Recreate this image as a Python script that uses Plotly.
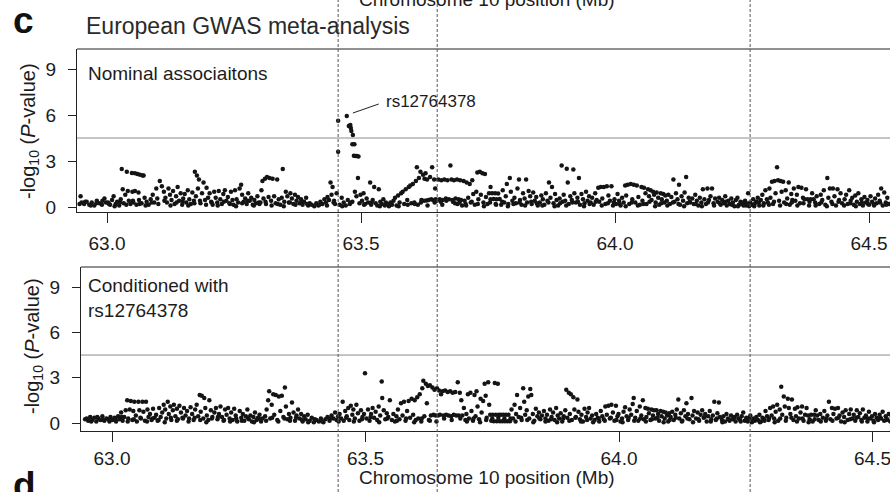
import plotly.graph_objects as go

FONT = "Liberation Sans, Arial, Helvetica, sans-serif"
W, H = 904, 492   # the page is viewed through an 890 px window; panels run off its right edge

# ---------------- data (Mb position, -log10 P) ----------------
tick_vals = [63.0, 63.5, 64.0, 64.5]
tick_text = ["63.0", "63.5", "64.0", "64.5"]
y_ticks = [0, 3, 6, 9]
threshold = 4.5
region_bounds = [63.455, 63.650, 64.266]
lead_snp = "rs12764378"

nominal_peak = [
    (63.455, 5.63), (63.455, 3.6), (63.472, 5.94), (63.476, 5.28), (63.479, 5.35),
    (63.480, 5.15), (63.481, 4.95), (63.484, 4.7), (63.483, 4.1), (63.487, 4.1),
    (63.486, 3.35), (63.489, 3.33), (63.492, 3.33), (63.495, 3.3), (63.494, 1.9),
]

nominal_background = [
    (62.948, 0.7), (62.950, 0.3), (62.955, 0.2), (62.960, 0.35), (62.965, 0.15), (62.970, 0.3),
    (62.975, 0.1), (62.980, 0.4), (62.985, 0.25), (62.990, 0.15), (62.995, 0.55), (62.998, 0.3),
    (63.002, 0.3), (63.006, 0.15), (63.010, 0.45), (63.013, 0.7), (63.017, 0.2), (63.020, 0.35),
    (63.024, 0.1), (63.027, 0.5), (63.029, 2.48), (63.031, 1.15), (63.033, 0.25), (63.036, 0.8),
    (63.039, 2.3), (63.041, 1.05), (63.043, 0.4), (63.046, 0.2), (63.049, 2.22), (63.050, 1.0),
    (63.055, 2.2), (63.060, 2.15), (63.065, 2.1), (63.070, 2.05), (63.072, 2.05), (63.055, 1.05),
    (63.062, 0.95), (63.052, 0.3), (63.058, 0.15), (63.063, 0.45), (63.068, 0.25), (63.074, 0.6),
    (63.078, 0.35), (63.082, 0.15), (63.086, 0.5), (63.090, 0.8), (63.093, 0.3), (63.097, 1.2),
    (63.099, 0.55),
    (63.104, 1.7), (63.108, 1.35), (63.112, 1.0), (63.115, 0.6), (63.118, 0.3), (63.121, 1.2),
    (63.124, 0.8), (63.127, 0.45), (63.130, 1.05), (63.133, 0.2), (63.136, 0.7), (63.139, 1.3),
    (63.142, 0.4), (63.145, 0.9), (63.148, 0.15), (63.150, 0.55),
    (63.153, 0.85), (63.156, 0.3), (63.159, 1.1), (63.162, 0.5), (63.165, 0.2), (63.168, 0.95),
    (63.171, 0.4), (63.173, 2.3), (63.175, 0.7), (63.177, 2.05), (63.179, 1.2), (63.181, 1.8),
    (63.184, 0.25), (63.187, 0.9), (63.190, 1.6), (63.193, 0.45), (63.196, 1.25), (63.199, 0.6),
    (63.202, 0.9), (63.205, 0.35), (63.208, 0.15), (63.211, 1.0), (63.214, 0.6), (63.217, 0.3),
    (63.220, 1.05), (63.223, 0.5), (63.226, 0.2), (63.229, 0.85), (63.232, 1.1), (63.235, 0.4),
    (63.238, 0.65), (63.241, 0.25), (63.244, 1.0), (63.247, 0.45), (63.249, 0.15),
    (63.252, 1.1), (63.255, 0.5), (63.258, 0.3), (63.261, 1.2), (63.264, 1.45), (63.266, 0.8),
    (63.269, 0.35), (63.272, 0.55), (63.275, 0.2), (63.278, 0.9), (63.281, 0.4), (63.284, 0.6),
    (63.287, 0.15), (63.290, 0.45), (63.293, 0.25), (63.296, 0.7), (63.299, 0.3),
    (63.302, 0.3), (63.304, 1.1), (63.306, 1.7), (63.308, 0.55), (63.311, 1.85), (63.313, 0.2),
    (63.315, 1.95), (63.318, 0.65), (63.320, 1.9), (63.323, 0.4), (63.326, 1.85), (63.329, 0.7),
    (63.332, 0.25), (63.335, 1.8), (63.338, 0.5), (63.341, 0.15), (63.344, 0.6), (63.346, 2.48),
    (63.349, 0.35),
    (63.352, 1.0), (63.355, 0.7), (63.358, 0.3), (63.361, 0.9), (63.364, 0.55), (63.367, 0.2),
    (63.370, 0.8), (63.373, 0.4), (63.376, 0.65), (63.379, 0.25), (63.382, 0.5), (63.385, 0.15),
    (63.388, 0.35), (63.392, 0.6), (63.396, 0.1), (63.399, 0.25),
    (63.403, 0.15), (63.408, 0.05), (63.412, 0.25), (63.416, 0.1), (63.420, 0.35), (63.424, 0.2),
    (63.428, 0.5), (63.431, 0.3), (63.434, 0.65), (63.437, 0.45), (63.440, 1.6), (63.442, 0.8),
    (63.444, 1.3), (63.447, 0.4), (63.449, 0.2),
    (63.452, 0.9), (63.458, 0.15), (63.462, 0.6), (63.466, 0.3), (63.470, 0.1), (63.474, 0.45),
    (63.478, 0.2), (63.483, 0.35), (63.488, 1.0), (63.491, 0.7), (63.497, 0.25), (63.499, 0.8),
    (63.502, 0.4), (63.505, 0.9), (63.508, 0.2), (63.511, 0.55), (63.514, 0.3), (63.518, 1.6),
    (63.520, 0.15), (63.523, 0.45), (63.526, 1.3), (63.529, 0.25), (63.532, 0.1), (63.535, 1.15),
    (63.538, 0.35), (63.541, 0.2), (63.544, 0.5), (63.547, 0.1), (63.549, 0.3),
    (63.552, 0.2), (63.555, 0.05), (63.558, 0.3), (63.561, 0.15), (63.564, 0.4), (63.567, 0.6),
    (63.570, 0.1), (63.573, 0.75), (63.576, 0.3), (63.579, 0.9), (63.582, 1.0), (63.585, 0.2),
    (63.588, 1.15), (63.591, 0.45), (63.594, 1.3), (63.597, 1.4), (63.599, 0.25),
    (63.602, 1.5), (63.605, 0.3), (63.608, 1.7), (63.610, 2.6), (63.612, 0.15), (63.614, 1.9),
    (63.617, 2.3), (63.619, 0.45), (63.622, 2.1), (63.624, 0.4), (63.625, 1.85), (63.627, 2.2),
    (63.629, 0.42), (63.630, 1.8), (63.633, 0.45), (63.636, 1.95), (63.638, 0.5), (63.640, 2.6),
    (63.642, 0.45), (63.644, 1.8), (63.646, 1.2), (63.647, 0.5), (63.649, 0.4),
    (63.652, 1.8), (63.655, 0.5), (63.658, 1.75), (63.661, 0.45), (63.664, 1.8), (63.667, 0.55),
    (63.670, 1.75), (63.673, 0.5), (63.676, 2.7), (63.678, 1.8), (63.680, 0.45), (63.683, 1.75),
    (63.686, 0.55), (63.689, 1.8), (63.690, 0.2), (63.692, 0.5), (63.695, 1.75), (63.697, 0.45),
    (63.699, 0.1), (63.660, 0.15), (63.685, 0.25),
    (63.702, 1.7), (63.704, 0.4), (63.706, 0.2), (63.708, 1.6), (63.711, 0.6), (63.714, 1.5),
    (63.716, 0.3), (63.719, 1.75), (63.721, 0.85), (63.724, 0.15), (63.727, 1.0), (63.729, 2.25),
    (63.731, 0.5), (63.734, 2.3), (63.736, 0.8), (63.739, 2.2), (63.741, 0.3), (63.744, 2.15),
    (63.746, 0.65), (63.749, 0.2),
    (63.752, 0.9), (63.755, 0.5), (63.758, 0.9), (63.761, 0.52), (63.764, 0.9), (63.767, 0.5),
    (63.770, 0.88), (63.773, 0.52), (63.776, 0.15), (63.779, 1.1), (63.782, 0.3), (63.785, 0.7),
    (63.787, 1.5), (63.790, 0.2), (63.793, 1.9), (63.795, 1.0), (63.798, 0.4), (63.755, 1.3),
    (63.765, 0.2),
    (63.802, 0.6), (63.805, 0.25), (63.808, 1.2), (63.811, 1.8), (63.813, 0.45), (63.816, 0.15),
    (63.819, 0.9), (63.822, 0.55), (63.825, 1.8), (63.827, 0.3), (63.830, 1.05), (63.833, 0.7),
    (63.836, 0.2), (63.839, 0.95), (63.842, 0.4), (63.845, 0.65), (63.848, 0.1),
    (63.852, 0.3), (63.855, 0.75), (63.858, 0.5), (63.861, 0.15), (63.864, 0.9), (63.867, 0.4),
    (63.870, 1.6), (63.873, 0.6), (63.876, 1.3), (63.879, 0.25), (63.882, 0.85), (63.885, 0.45),
    (63.888, 0.1), (63.891, 0.55), (63.895, 2.7), (63.897, 0.35), (63.899, 0.8),
    (63.902, 0.4), (63.905, 2.5), (63.907, 1.6), (63.909, 0.2), (63.912, 0.7), (63.915, 0.45),
    (63.918, 2.45), (63.920, 0.9), (63.923, 0.3), (63.926, 0.6), (63.929, 1.9), (63.931, 0.15),
    (63.934, 0.85), (63.937, 0.5), (63.940, 0.25), (63.943, 1.0), (63.946, 0.4), (63.949, 0.7),
    (63.952, 0.3), (63.955, 0.6), (63.958, 0.15), (63.961, 0.9), (63.964, 0.45), (63.967, 1.25),
    (63.969, 0.35), (63.972, 1.3), (63.975, 0.55), (63.978, 1.3), (63.981, 0.2), (63.984, 1.35),
    (63.987, 0.75), (63.990, 0.4), (63.993, 1.35), (63.996, 0.1), (63.999, 0.5),
    (64.002, 0.2), (64.005, 0.85), (64.008, 0.4), (64.011, 0.1), (64.014, 0.6), (64.017, 0.3),
    (64.020, 1.4), (64.022, 0.75), (64.025, 1.45), (64.028, 0.2), (64.031, 1.5), (64.034, 0.5),
    (64.037, 1.45), (64.040, 0.3), (64.043, 1.4), (64.046, 0.65), (64.049, 0.15),
    (64.052, 1.3), (64.054, 0.4), (64.057, 1.25), (64.060, 0.9), (64.062, 0.2), (64.065, 1.15),
    (64.067, 0.7), (64.070, 1.1), (64.072, 0.45), (64.075, 1.0), (64.077, 0.8), (64.080, 0.3),
    (64.082, 0.95), (64.085, 0.6), (64.087, 0.15), (64.090, 0.9), (64.092, 0.5), (64.095, 0.85),
    (64.097, 0.3), (64.099, 0.75),
    (64.102, 0.4), (64.105, 0.8), (64.108, 0.2), (64.111, 0.65), (64.115, 1.8), (64.117, 0.35),
    (64.120, 0.9), (64.123, 0.5), (64.126, 1.45), (64.128, 0.15), (64.131, 0.7), (64.134, 0.4),
    (64.137, 0.95), (64.140, 1.95), (64.142, 0.25), (64.145, 0.6), (64.148, 0.3),
    (64.152, 0.55), (64.155, 0.2), (64.158, 0.8), (64.161, 0.4), (64.164, 0.1), (64.167, 0.6),
    (64.170, 0.3), (64.173, 1.15), (64.176, 0.5), (64.179, 0.2), (64.182, 1.2), (64.185, 0.45),
    (64.188, 0.7), (64.191, 1.2), (64.194, 0.25), (64.197, 0.55),
    (64.202, 0.35), (64.205, 0.6), (64.208, 0.15), (64.211, 0.45), (64.214, 0.25), (64.217, 0.7),
    (64.220, 0.1), (64.223, 0.4), (64.226, 0.2), (64.229, 0.55), (64.232, 0.3), (64.235, 0.05),
    (64.238, 0.45), (64.241, 0.6), (64.244, 0.15), (64.247, 0.35),
    (64.250, 0.2), (64.253, 0.1), (64.256, 0.4), (64.259, 0.25), (64.262, 0.9), (64.264, 0.05),
    (64.266, 0.3), (64.269, 0.15), (64.272, 0.5), (64.275, 0.2), (64.278, 0.35), (64.281, 0.6),
    (64.284, 0.1), (64.287, 0.45), (64.290, 0.8), (64.293, 0.25), (64.296, 1.1), (64.299, 0.5),
    (64.301, 0.3), (64.304, 1.2), (64.306, 0.6), (64.309, 1.65), (64.311, 0.2), (64.314, 1.7),
    (64.316, 0.9), (64.319, 2.6), (64.321, 1.75), (64.323, 0.4), (64.326, 1.7), (64.328, 1.0),
    (64.331, 1.65), (64.333, 0.3), (64.336, 1.1), (64.339, 0.55), (64.342, 1.6), (64.344, 0.15),
    (64.347, 0.85), (64.349, 0.45),
    (64.352, 1.2), (64.355, 0.4), (64.358, 0.8), (64.361, 1.3), (64.364, 0.25), (64.367, 1.25),
    (64.370, 0.6), (64.373, 0.5), (64.376, 1.15), (64.379, 0.5), (64.382, 0.1), (64.385, 0.5),
    (64.388, 0.9), (64.391, 0.5), (64.394, 0.3), (64.397, 0.7),
    (64.402, 0.2), (64.405, 0.8), (64.408, 0.45), (64.411, 1.1), (64.414, 0.15), (64.418, 1.9),
    (64.420, 0.6), (64.423, 1.2), (64.426, 0.35), (64.429, 1.2), (64.432, 0.7), (64.435, 0.1),
    (64.438, 1.15), (64.441, 0.45), (64.444, 0.9), (64.447, 0.25),
    (64.452, 0.5), (64.455, 0.8), (64.458, 0.2), (64.461, 1.1), (64.464, 0.4), (64.467, 0.6),
    (64.470, 0.15), (64.473, 0.75), (64.476, 0.35), (64.479, 0.9), (64.482, 0.2), (64.485, 0.5),
    (64.488, 0.1), (64.491, 0.65), (64.494, 0.3), (64.497, 0.45), (64.500, 0.15), (64.503, 0.7),
    (64.506, 0.35), (64.509, 0.2), (64.512, 0.55), (64.515, 0.25), (64.518, 0.8), (64.521, 0.4),
    (64.524, 1.2), (64.527, 0.1), (64.530, 0.95), (64.533, 0.3), (64.536, 0.6), (64.539, 0.2),
]

nominal_baseline = [
    (62.946, 0.2), (62.957, 0.35), (62.968, 0.1), (62.979, 0.25), (62.991, 0.4), (63.004, 0.2),
    (63.015, 0.05), (63.026, 0.3), (63.038, 0.15), (63.051, 0.4), (63.064, 0.2), (63.076, 0.1),
    (63.088, 0.3), (63.101, 0.2), (63.113, 0.4), (63.125, 0.1), (63.137, 0.3), (63.149, 0.35),
    (63.160, 0.1), (63.172, 0.25), (63.183, 0.4), (63.195, 0.15), (63.206, 0.3), (63.218, 0.1),
    (63.230, 0.35), (63.242, 0.2), (63.254, 0.05), (63.266, 0.25), (63.277, 0.4), (63.289, 0.1),
    (63.300, 0.2), (63.312, 0.35), (63.324, 0.1), (63.336, 0.2), (63.348, 0.05), (63.360, 0.3),
    (63.371, 0.15), (63.383, 0.35), (63.394, 0.2), (63.418, 0.15), (63.433, 0.1), (63.446, 0.3),
    (63.463, 0.05), (63.480, 0.3), (63.506, 0.15), (63.521, 0.3), (63.537, 0.05), (63.559, 0.2),
    (63.574, 0.05), (63.592, 0.15), (63.606, 0.2), (63.618, 0.3), (63.631, 0.1), (63.645, 0.3),
    (63.657, 0.35), (63.668, 0.4), (63.681, 0.35), (63.694, 0.3), (63.707, 0.1), (63.718, 0.35),
    (63.730, 0.2), (63.742, 0.05), (63.754, 0.3), (63.766, 0.15), (63.778, 0.35), (63.789, 0.05),
    (63.800, 0.2), (63.812, 0.3), (63.823, 0.1), (63.835, 0.35), (63.846, 0.25), (63.857, 0.1),
    (63.869, 0.3), (63.881, 0.05), (63.892, 0.25), (63.904, 0.1), (63.916, 0.3), (63.927, 0.35),
    (63.939, 0.05), (63.950, 0.2), (63.962, 0.35), (63.974, 0.1), (63.986, 0.25), (63.998, 0.3),
    (64.009, 0.2), (64.021, 0.05), (64.033, 0.3), (64.045, 0.1), (64.056, 0.2), (64.068, 0.35),
    (64.079, 0.05), (64.091, 0.25), (64.103, 0.1), (64.114, 0.3), (64.125, 0.2), (64.136, 0.05),
    (64.147, 0.35), (64.159, 0.2), (64.171, 0.05), (64.183, 0.3), (64.195, 0.1), (64.206, 0.25),
    (64.218, 0.35), (64.230, 0.15), (64.242, 0.05), (64.252, 0.3), (64.258, 0.1), (64.267, 0.2),
    (64.274, 0.05), (64.283, 0.3), (64.292, 0.1), (64.303, 0.15), (64.313, 0.35), (64.325, 0.1),
    (64.337, 0.2), (64.348, 0.3), (64.359, 0.1), (64.371, 0.25), (64.383, 0.35), (64.395, 0.1),
    (64.406, 0.3), (64.417, 0.05), (64.428, 0.2), (64.440, 0.35), (64.451, 0.1), (64.463, 0.25),
    (64.474, 0.05), (64.486, 0.3), (64.498, 0.2), (64.510, 0.1), (64.522, 0.3), (64.534, 0.15),
    (64.545, 0.3), (64.552, 0.8), (64.556, 0.2),
]

conditioned = [
    (62.950, 0.3), (62.953, 0.15), (62.957, 0.4), (62.961, 0.2), (62.965, 0.35), (62.969, 0.1),
    (62.973, 0.3), (62.977, 0.2), (62.981, 0.45), (62.985, 0.15), (62.989, 0.3), (62.993, 0.25),
    (62.997, 0.4),
    (63.001, 0.2), (63.005, 0.35), (63.008, 0.1), (63.012, 0.45), (63.015, 0.25), (63.018, 0.7),
    (63.021, 0.15), (63.024, 0.4), (63.027, 0.85), (63.030, 1.5), (63.032, 0.3), (63.035, 0.9),
    (63.037, 1.45), (63.040, 0.2), (63.042, 0.8), (63.044, 1.4), (63.047, 0.5), (63.049, 0.1),
    (63.052, 1.4), (63.054, 0.85), (63.057, 0.3), (63.060, 1.4), (63.062, 0.75), (63.065, 0.15),
    (63.067, 1.4), (63.070, 0.9), (63.072, 0.4), (63.075, 0.6), (63.078, 0.2), (63.081, 0.95),
    (63.084, 0.35), (63.087, 0.55), (63.090, 0.15), (63.093, 1.0), (63.096, 0.4), (63.099, 0.7),
    (63.102, 1.2), (63.105, 0.9), (63.107, 0.3), (63.110, 1.4), (63.112, 0.6), (63.115, 1.1),
    (63.117, 0.2), (63.120, 0.85), (63.122, 1.2), (63.125, 0.45), (63.128, 0.95), (63.130, 0.25),
    (63.133, 1.15), (63.136, 0.7), (63.139, 0.35), (63.142, 1.0), (63.145, 0.5), (63.148, 0.8),
    (63.152, 0.3), (63.155, 1.05), (63.158, 0.6), (63.161, 0.2), (63.164, 0.9), (63.167, 1.2),
    (63.170, 0.45), (63.173, 1.85), (63.175, 0.75), (63.177, 1.8), (63.180, 0.3), (63.182, 1.65),
    (63.184, 1.0), (63.187, 0.5), (63.190, 0.2), (63.192, 1.5), (63.195, 0.85), (63.198, 0.4),
    (63.202, 0.7), (63.205, 1.0), (63.208, 0.25), (63.211, 0.6), (63.214, 1.1), (63.217, 0.4),
    (63.220, 0.15), (63.223, 0.9), (63.226, 0.55), (63.229, 1.0), (63.232, 0.3), (63.235, 0.7),
    (63.238, 0.2), (63.241, 0.95), (63.244, 0.5), (63.247, 0.1),
    (63.252, 0.8), (63.255, 0.35), (63.258, 0.6), (63.261, 0.15), (63.264, 0.45), (63.267, 0.9),
    (63.270, 0.25), (63.273, 0.5), (63.276, 0.1), (63.279, 0.4), (63.282, 0.7), (63.285, 0.2),
    (63.288, 0.35), (63.291, 0.55), (63.294, 0.1), (63.297, 0.3),
    (63.302, 0.45), (63.305, 0.9), (63.308, 1.5), (63.310, 2.1), (63.312, 0.3), (63.315, 1.2),
    (63.318, 1.9), (63.320, 0.55), (63.323, 1.85), (63.326, 0.2), (63.329, 1.75), (63.332, 0.8),
    (63.335, 1.8), (63.338, 0.4), (63.341, 2.35), (63.343, 1.1), (63.346, 0.25), (63.349, 0.6),
    (63.352, 0.35), (63.355, 1.35), (63.358, 0.7), (63.361, 0.15), (63.364, 0.5), (63.367, 0.9),
    (63.370, 0.3), (63.373, 0.6), (63.376, 0.1), (63.379, 0.45), (63.382, 0.25), (63.386, 0.55),
    (63.390, 0.15), (63.394, 0.35), (63.398, 0.05),
    (63.403, 0.2), (63.408, 0.1), (63.412, 0.3), (63.417, 0.05), (63.421, 0.25), (63.425, 0.4),
    (63.429, 0.15), (63.433, 0.5), (63.437, 0.3), (63.440, 0.7), (63.443, 0.2), (63.446, 0.45),
    (63.449, 0.6),
    (63.452, 0.3), (63.455, 1.4), (63.457, 0.15), (63.460, 0.8), (63.463, 0.45), (63.466, 1.0),
    (63.468, 0.2), (63.471, 1.15), (63.474, 0.55), (63.476, 0.9), (63.479, 0.3), (63.482, 1.2),
    (63.485, 0.65), (63.488, 0.15), (63.491, 0.85), (63.494, 0.4), (63.497, 0.6), (63.499, 3.3),
    (63.502, 0.3), (63.505, 0.9), (63.508, 0.15), (63.511, 0.6), (63.514, 1.0), (63.517, 0.35),
    (63.520, 0.75), (63.523, 0.2), (63.526, 1.1), (63.529, 0.5), (63.532, 2.75), (63.533, 1.65),
    (63.536, 0.85), (63.539, 0.25), (63.542, 0.65), (63.545, 0.4), (63.548, 1.5),
    (63.552, 0.2), (63.555, 0.6), (63.558, 0.1), (63.561, 0.45), (63.564, 0.9), (63.567, 0.25),
    (63.570, 1.3), (63.573, 0.5), (63.576, 1.4), (63.579, 0.15), (63.582, 0.8), (63.585, 1.45),
    (63.588, 0.35), (63.591, 1.6), (63.594, 0.55), (63.597, 1.5), (63.599, 0.2),
    (63.602, 1.7), (63.604, 0.3), (63.607, 1.9), (63.610, 0.1), (63.612, 2.3), (63.614, 2.8),
    (63.616, 0.45), (63.619, 2.6), (63.621, 1.3), (63.623, 2.45), (63.625, 0.2), (63.627, 2.5),
    (63.629, 0.5), (63.632, 2.35), (63.634, 0.55), (63.636, 2.2), (63.638, 0.5), (63.641, 2.3),
    (63.643, 0.5), (63.645, 2.15), (63.647, 0.55), (63.649, 1.9),
    (63.652, 2.1), (63.654, 0.5), (63.657, 2.15), (63.659, 0.55), (63.662, 2.05), (63.664, 0.5),
    (63.667, 2.1), (63.669, 0.45), (63.672, 2.0), (63.674, 0.55), (63.677, 2.05), (63.679, 0.5),
    (63.682, 2.7), (63.684, 0.5), (63.686, 2.0), (63.689, 1.5), (63.691, 0.5), (63.694, 1.0),
    (63.697, 0.2), (63.699, 0.6),
    (63.702, 1.9), (63.704, 0.3), (63.707, 2.0), (63.709, 0.8), (63.712, 0.15), (63.715, 1.85),
    (63.717, 0.45), (63.719, 2.1), (63.721, 1.1), (63.724, 0.25), (63.727, 1.6), (63.729, 0.7),
    (63.732, 1.45), (63.735, 2.6), (63.737, 1.8), (63.739, 0.35), (63.742, 2.7), (63.744, 1.2),
    (63.746, 0.55), (63.748, 0.15),
    (63.751, 0.55), (63.753, 0.12), (63.755, 2.65), (63.757, 0.55), (63.759, 0.12), (63.761, 2.6),
    (63.763, 0.55), (63.765, 0.12), (63.767, 0.55), (63.770, 0.12), (63.772, 0.55), (63.775, 0.12),
    (63.777, 0.55), (63.780, 0.12), (63.782, 0.55), (63.785, 0.12), (63.788, 0.9), (63.791, 0.3),
    (63.794, 1.2), (63.797, 0.6), (63.799, 1.85),
    (63.802, 0.4), (63.805, 1.0), (63.808, 0.2), (63.811, 2.3), (63.813, 1.4), (63.815, 0.55),
    (63.818, 0.85), (63.821, 1.75), (63.823, 0.3), (63.825, 2.25), (63.827, 1.85), (63.830, 0.6),
    (63.833, 0.15), (63.836, 0.95), (63.839, 0.45), (63.842, 0.7), (63.845, 0.25), (63.848, 0.5),
    (63.852, 0.8), (63.855, 0.3), (63.858, 0.55), (63.861, 0.15), (63.864, 0.9), (63.867, 0.4),
    (63.870, 0.7), (63.873, 0.2), (63.876, 1.0), (63.879, 0.5), (63.882, 0.3), (63.885, 0.65),
    (63.888, 0.1), (63.891, 0.45), (63.894, 0.85), (63.896, 2.2), (63.898, 0.35),
    (63.901, 2.0), (63.903, 0.6), (63.905, 1.9), (63.907, 0.2), (63.910, 1.7), (63.912, 0.9),
    (63.915, 0.4), (63.918, 1.55), (63.920, 0.75), (63.923, 0.25), (63.926, 0.55), (63.929, 0.1),
    (63.932, 0.95), (63.935, 0.4), (63.938, 0.7), (63.941, 1.0), (63.944, 0.3), (63.947, 0.5),
    (63.952, 0.2), (63.955, 0.6), (63.958, 0.35), (63.961, 0.1), (63.964, 0.8), (63.967, 0.45),
    (63.970, 0.25), (63.973, 1.1), (63.976, 0.55), (63.979, 1.15), (63.982, 0.3), (63.985, 1.2),
    (63.988, 0.7), (63.991, 0.15), (63.994, 1.15), (63.997, 0.45), (63.999, 0.6),
    (64.003, 0.1), (64.006, 0.3), (64.009, 0.75), (64.012, 1.05), (64.015, 0.45), (64.018, 0.2),
    (64.021, 0.9), (64.024, 0.55), (64.027, 1.25), (64.029, 1.65), (64.032, 0.35), (64.035, 0.8),
    (64.038, 0.15), (64.041, 1.1), (64.044, 0.5), (64.047, 1.5), (64.049, 0.25),
    (64.052, 1.0), (64.054, 0.4), (64.057, 0.95), (64.059, 0.65), (64.062, 0.2), (64.064, 0.9),
    (64.067, 0.5), (64.069, 0.85), (64.072, 0.3), (64.074, 0.85), (64.077, 0.6), (64.079, 0.15),
    (64.082, 0.8), (64.084, 0.45), (64.087, 0.75), (64.090, 0.3), (64.092, 0.7), (64.095, 0.5),
    (64.097, 0.1), (64.099, 0.65),
    (64.102, 0.4), (64.105, 0.75), (64.108, 0.2), (64.111, 0.55), (64.114, 0.9), (64.117, 1.55),
    (64.119, 0.3), (64.122, 0.65), (64.125, 0.15), (64.128, 0.85), (64.131, 0.45), (64.133, 1.3),
    (64.136, 0.6), (64.139, 0.25), (64.143, 1.65), (64.145, 0.5), (64.148, 0.8),
    (64.152, 0.3), (64.155, 0.7), (64.158, 0.15), (64.161, 0.55), (64.164, 0.85), (64.167, 0.35),
    (64.170, 0.6), (64.173, 0.1), (64.176, 0.45), (64.179, 0.8), (64.182, 0.25), (64.185, 0.5),
    (64.188, 1.4), (64.191, 0.2), (64.194, 0.65), (64.197, 1.35), (64.199, 0.4),
    (64.203, 0.2), (64.206, 0.45), (64.209, 0.1), (64.212, 0.6), (64.215, 0.3), (64.218, 0.15),
    (64.221, 0.5), (64.224, 0.25), (64.227, 0.4), (64.230, 0.1), (64.233, 0.55), (64.236, 0.3),
    (64.239, 0.2), (64.242, 0.45), (64.245, 0.7), (64.248, 0.15),
    (64.251, 0.35), (64.254, 0.1), (64.257, 0.25), (64.259, 0.5), (64.262, 0.05), (64.265, 0.3),
    (64.268, 0.15), (64.271, 0.4), (64.274, 0.2), (64.277, 0.55), (64.280, 0.1), (64.283, 0.35),
    (64.286, 0.25), (64.289, 0.8), (64.292, 0.45), (64.295, 0.2), (64.298, 1.0),
    (64.301, 0.5), (64.304, 1.1), (64.306, 0.3), (64.309, 0.75), (64.312, 1.2), (64.314, 0.15),
    (64.317, 0.9), (64.320, 2.4), (64.322, 0.55), (64.325, 1.75), (64.327, 1.1), (64.330, 0.35),
    (64.333, 1.6), (64.335, 1.0), (64.338, 0.6), (64.341, 1.55), (64.344, 0.2), (64.347, 0.95),
    (64.349, 0.45),
    (64.352, 1.05), (64.355, 0.3), (64.358, 0.7), (64.361, 1.1), (64.364, 0.15), (64.367, 0.55),
    (64.370, 1.0), (64.373, 0.5), (64.376, 0.25), (64.379, 0.55), (64.382, 0.1), (64.385, 0.55),
    (64.388, 0.85), (64.391, 0.5), (64.394, 0.2), (64.397, 0.6),
    (64.402, 0.35), (64.405, 0.8), (64.408, 0.15), (64.411, 0.5), (64.414, 1.4), (64.417, 0.25),
    (64.420, 1.0), (64.423, 0.6), (64.426, 0.95), (64.429, 0.3), (64.432, 1.0), (64.435, 0.5),
    (64.438, 0.1), (64.441, 0.7), (64.444, 0.4), (64.447, 0.85),
    (64.451, 0.2), (64.454, 0.6), (64.457, 0.9), (64.460, 0.3), (64.463, 0.55), (64.466, 0.15),
    (64.469, 0.85), (64.472, 0.4), (64.475, 0.65), (64.478, 0.2), (64.481, 0.9), (64.484, 0.35),
    (64.487, 0.5), (64.490, 0.1), (64.493, 0.75), (64.496, 0.3), (64.499, 0.45), (64.502, 0.15),
    (64.505, 0.6), (64.508, 0.35), (64.511, 0.2), (64.514, 0.55), (64.517, 0.3), (64.520, 0.75),
    (64.523, 0.15), (64.526, 0.45), (64.529, 0.25), (64.532, 0.6), (64.535, 0.1), (64.538, 0.4),
]

conditioned_baseline = [
    (62.947, 0.25), (62.959, 0.1), (62.971, 0.4), (62.983, 0.2), (62.995, 0.1), (63.007, 0.3),
    (63.019, 0.4), (63.031, 0.1), (63.043, 0.25), (63.056, 0.35), (63.069, 0.1), (63.080, 0.3),
    (63.092, 0.2), (63.104, 0.05), (63.116, 0.35), (63.128, 0.15), (63.140, 0.3), (63.151, 0.1),
    (63.163, 0.35), (63.174, 0.2), (63.186, 0.05), (63.197, 0.3), (63.209, 0.4), (63.221, 0.2),
    (63.233, 0.1), (63.245, 0.3), (63.256, 0.15), (63.268, 0.35), (63.280, 0.05), (63.292, 0.25),
    (63.304, 0.15), (63.316, 0.35), (63.328, 0.1), (63.340, 0.3), (63.351, 0.15), (63.363, 0.35),
    (63.375, 0.2), (63.387, 0.05), (63.400, 0.25), (63.415, 0.1), (63.431, 0.3), (63.447, 0.1),
    (63.462, 0.35), (63.477, 0.1), (63.493, 0.25), (63.510, 0.4), (63.527, 0.05), (63.543, 0.3),
    (63.562, 0.15), (63.580, 0.3), (63.596, 0.05), (63.611, 0.3), (63.627, 0.15), (63.640, 0.1),
    (63.655, 0.3), (63.670, 0.2), (63.687, 0.3), (63.700, 0.1), (63.713, 0.3), (63.726, 0.05),
    (63.738, 0.2), (63.750, 0.3), (63.762, 0.35), (63.774, 0.3), (63.786, 0.3), (63.796, 0.1),
    (63.807, 0.35), (63.819, 0.2), (63.831, 0.05), (63.843, 0.3), (63.855, 0.1), (63.866, 0.25),
    (63.878, 0.05), (63.890, 0.3), (63.902, 0.15), (63.914, 0.35), (63.925, 0.1), (63.937, 0.2),
    (63.949, 0.05), (63.960, 0.3), (63.972, 0.15), (63.984, 0.35), (63.995, 0.2), (64.007, 0.05),
    (64.019, 0.35), (64.030, 0.15), (64.042, 0.3), (64.053, 0.1), (64.065, 0.25), (64.076, 0.35),
    (64.088, 0.05), (64.100, 0.2), (64.112, 0.35), (64.124, 0.1), (64.135, 0.3), (64.146, 0.05),
    (64.157, 0.25), (64.169, 0.4), (64.181, 0.1), (64.193, 0.3), (64.204, 0.05), (64.216, 0.25),
    (64.228, 0.35), (64.240, 0.1), (64.250, 0.2), (64.256, 0.35), (64.263, 0.1), (64.270, 0.3),
    (64.278, 0.05), (64.287, 0.15), (64.296, 0.3), (64.307, 0.05), (64.318, 0.3), (64.329, 0.15),
    (64.340, 0.35), (64.351, 0.1), (64.362, 0.3), (64.374, 0.05), (64.386, 0.25), (64.398, 0.1),
    (64.409, 0.3), (64.421, 0.15), (64.433, 0.35), (64.445, 0.05), (64.456, 0.25), (64.468, 0.35),
    (64.479, 0.1), (64.491, 0.3), (64.503, 0.05), (64.515, 0.35), (64.527, 0.2), (64.539, 0.3),
    (64.546, 0.15), (64.551, 0.6),
]

nominal = nominal_background + nominal_baseline + nominal_peak
nominal_pos = [p for p, _ in nominal]
nominal_logp = [v for _, v in nominal]
cond = conditioned + conditioned_baseline
cond_pos = [p for p, _ in cond]
cond_logp = [v for _, v in cond]

# ---------------- figure ----------------
def px(x):
    return x / W

def py(y):
    return 1 - y / H

INK = "#141414"
TXT = "#1c1c1c"
LINE = "#222"

fig = go.Figure()
marker = dict(color=INK, size=4.5, line=dict(width=0))
fig.add_trace(go.Scatter(x=nominal_pos, y=nominal_logp, mode="markers", marker=marker,
                         xaxis="x", yaxis="y", hoverinfo="skip", showlegend=False))
fig.add_trace(go.Scatter(x=cond_pos, y=cond_logp, mode="markers", marker=marker,
                         xaxis="x2", yaxis="y2", hoverinfo="skip", showlegend=False))

axis_common = dict(showgrid=False, zeroline=False, showline=True, linecolor=LINE,
                   linewidth=1, ticks="outside", tickcolor=LINE, tickwidth=1,
                   automargin=False, mirror=False,
                   tickfont=dict(family=FONT, size=19, color=TXT))

# x ranges: left edge at 77 / 81 px, scale 508 / 507 px per Mb, running to the figure edge
top_range = [63.0 - 30 / 508, 63.0 + (W - 107) / 508]
bot_range = [63.0 - 31 / 507, 63.0 + (W - 112) / 507]

fig.update_layout(
    template="none",
    width=W, height=H, margin=dict(l=0, r=0, t=0, b=0, pad=0),
    paper_bgcolor="white", plot_bgcolor="white", showlegend=False,
    font=dict(family=FONT, color=TXT),
    xaxis=dict(axis_common, domain=[px(77), 1], range=top_range, anchor="y",
               tickvals=tick_vals, ticktext=tick_text, ticklen=10, ticklabelstandoff=4),
    yaxis=dict(axis_common, domain=[py(212), py(49)], range=[-0.326, 10.307], anchor="x",
               tickvals=y_ticks, ticklen=8, ticklabelstandoff=8),
    xaxis2=dict(axis_common, domain=[px(81), 1], range=bot_range, anchor="y2",
                tickvals=tick_vals, ticktext=tick_text, ticklen=10),
    yaxis2=dict(axis_common, domain=[py(431), py(267)], range=[-0.53, 10.33], anchor="x2",
                tickvals=y_ticks, ticklen=8, ticklabelstandoff=8),
)

shapes = []
for xr, yr in (("x", "y"), ("x2", "y2")):
    # top border of the panel box
    shapes.append(dict(type="line", xref=f"{xr} domain", x0=0, x1=1, yref=f"{yr} domain",
                       y0=1, y1=1, line=dict(color=LINE, width=1)))
    shapes.append(dict(type="line", xref=f"{xr} domain", x0=0, x1=1, yref=yr,
                       y0=threshold, y1=threshold, line=dict(color="#8c8c8c", width=1)))
for b in region_bounds:
    shapes.append(dict(type="line", xref="x", x0=b, x1=b, yref="paper", y0=0, y1=1,
                       line=dict(color="#555", width=1, dash="3px,2px")))
# pointer from the lead SNP label to its point
shapes.append(dict(type="line", xref="x", yref="y", x0=63.484, y0=6.13, x1=63.535, y1=6.72,
                   line=dict(color=LINE, width=1)))
fig.update_layout(shapes=shapes)


def note(text, x, y, size, xanchor="center", yanchor="middle", color=TXT, **kw):
    return dict(text=text, x=px(x), y=py(y), xref="paper", yref="paper",
                xanchor=xanchor, yanchor=yanchor, showarrow=False,
                font=dict(size=size, color=color, family=FONT), **kw)


ann = [
    note("<b>c</b>", 23, 20, 37, color="#111"),
    note("<b>d</b>", 24, 463, 37, yanchor="top", color="#111"),
    note("European GWAS meta-analysis", 84, 26, 23, xanchor="left", color="#2a2a2a"),
    note("Chromosome 10 position (Mb)", 487, -1, 19),
    note("Chromosome 10 position (Mb)", 487, 477, 19),
    note("Nominal associaitons", 86, 73, 19, xanchor="left"),
    note(lead_snp, 384, 102, 17, xanchor="left"),
    note("Conditioned with<br>" + lead_snp, 86, 298, 19, xanchor="left", align="left"),
]
ytitle = "-log<sub>10</sub> (<i>P</i>-value)"
ann.append(note(ytitle, 29, 131, 20, textangle=-90))
ann.append(note(ytitle, 33, 346, 20, textangle=-90))
fig.update_layout(annotations=ann)

fig.write_html(
    "out.html", config={"displayModeBar": False},
    post_script=("document.body.style.margin='0px';"
                 "document.body.style.overflow='hidden';"
                 "document.documentElement.style.overflow='hidden';"),
)
